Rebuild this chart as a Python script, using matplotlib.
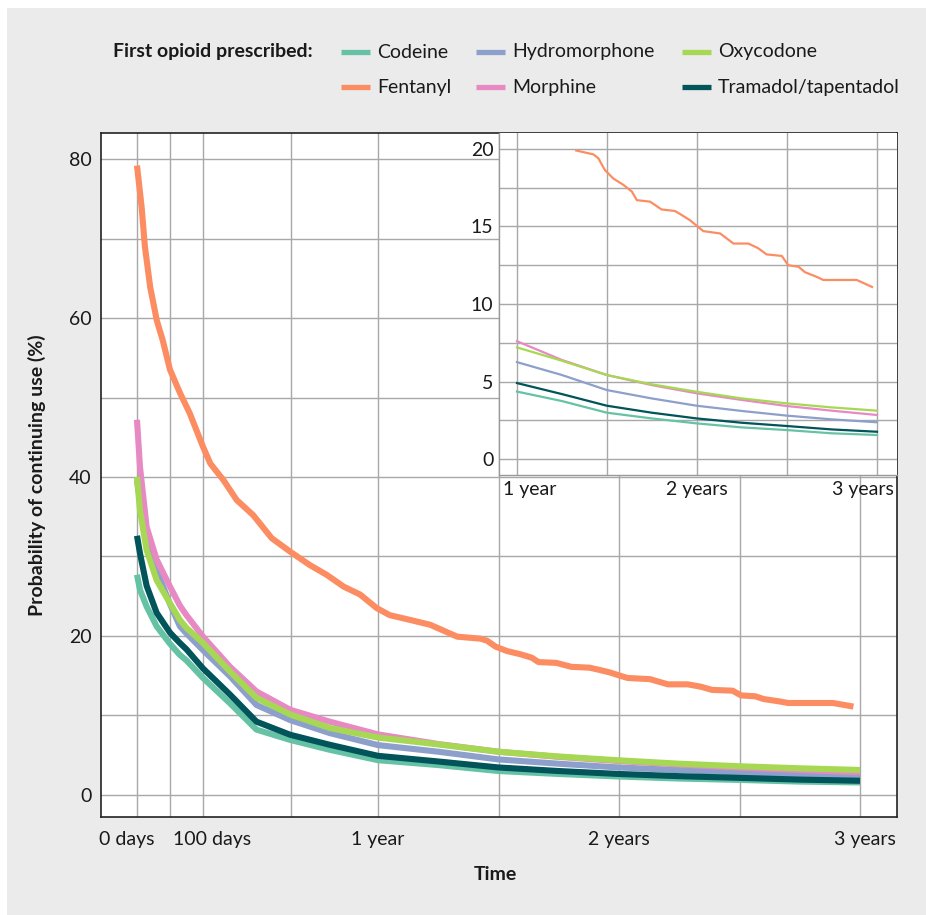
import numpy as np
import matplotlib.pyplot as plt
from matplotlib.lines import Line2D
from matplotlib.patches import Rectangle
from matplotlib.transforms import ScaledTranslation

plt.rcParams['font.family'] = ['Lato', 'DejaVu Sans']

# days since first prescription
days = [0, 4.5, 14.6, 29.8, 50, 65, 75, 100, 141, 181, 232, 292, 365,
        456, 547, 638, 729, 821, 912, 1003, 1095]
codeine = [27.7, 25.8, 23.7, 21.2, 19.0, 17.6, 16.9, 14.7, 11.5, 8.2, 6.9, 5.66, 4.35,
           3.74, 2.99, 2.62, 2.3, 2.04, 1.87, 1.66, 1.55]
hydromorphone = [39.6, 37.0, 32.6, 28.3, 24.0, 21.2, 20.3, 18.2, 14.9, 11.3, 9.4, 7.76, 6.25,
                 5.42, 4.45, 3.91, 3.44, 3.1, 2.8, 2.56, 2.37]
morphine = [47.2, 41.3, 33.7, 29.6, 26.2, 23.8, 22.6, 19.9, 16.1, 13.0, 10.7, 9.2, 7.6,
            6.39, 5.42, 4.77, 4.24, 3.81, 3.42, 3.12, 2.84]
oxycodone = [40.0, 35.8, 30.8, 27.0, 24.1, 22.0, 21.0, 19.1, 15.5, 12.2, 10.1, 8.4, 7.2,
             6.34, 5.42, 4.82, 4.34, 3.91, 3.59, 3.33, 3.12]
tramadol = [32.6, 30.4, 26.3, 22.9, 20.4, 19.1, 18.3, 15.9, 12.6, 9.2, 7.55, 6.29, 4.9,
            4.19, 3.44, 2.99, 2.62, 2.34, 2.13, 1.91, 1.76]

fent_days = [0, 7, 12, 20, 30, 39, 50, 65, 80, 100, 111, 131, 151, 176, 204, 232, 262, 287,
             313, 338, 363, 383, 414, 444, 485, 520, 530, 543, 560, 580, 598, 608, 635, 658,
             685, 696, 716, 733, 743, 777, 804, 834, 854, 871, 902, 915, 936, 949, 973, 986,
             1054, 1085]
fentanyl = [79.2, 74.0, 69.0, 63.9, 59.7, 57.2, 53.5, 50.6, 48.0, 43.8, 41.7, 39.6, 37.1, 35.2,
            32.3, 30.6, 28.9, 27.7, 26.2, 25.2, 23.5, 22.6, 22.0, 21.4, 19.9, 19.65, 19.4, 18.65,
            18.1, 17.7, 17.25, 16.7, 16.6, 16.1, 16.0, 15.8, 15.4, 14.95, 14.7, 14.55, 13.9,
            13.9, 13.6, 13.2, 13.1, 12.5, 12.4, 12.05, 11.75, 11.55, 11.55, 11.1]

names = ['Codeine', 'Fentanyl', 'Hydromorphone', 'Morphine', 'Oxycodone', 'Tramadol/tapentadol']
colors = ['#66c2a5', '#fc8d62', '#8da0cb', '#e78ac3', '#a6d854', '#00545a']
xs = [days, fent_days, days, days, days, days]
ys = [codeine, fentanyl, hydromorphone, morphine, oxycodone, tramadol]

main_ticks = [0, 100, 365, 730, 1095]
main_labels = ['0 days', '100 days', '1 year', '2 years', '3 years']
main_grid = [0, 50, 100, 232.5, 365, 547.5, 730, 912.5, 1095]
inset_ticks = [365, 730, 1095]
inset_labels = ['1 year', '2 years', '3 years']

W, H = 926, 915
fs = 14
fig = plt.figure(figsize=(W / 100, H / 100), dpi=100, facecolor='white')
fig.add_artist(Rectangle((7 / W, 0), 1, 1 - 8 / H, transform=fig.transFigure,
                         facecolor='#ebebeb', edgecolor='none', zorder=-5))

grid_col = '#a8a8a8'
txt_col = '#1a1a1a'


def shift(label, dx):
    label.set_transform(label.get_transform() + ScaledTranslation(dx / 100, 0, fig.dpi_scale_trans))


# main panel
ax = fig.add_axes([101 / W, 1 - 817 / H, 796 / W, 684 / H])
ax.set_facecolor('white')
for x, y, c in zip(xs, ys, colors):
    ax.plot(x, y, color=c, lw=4.4, solid_capstyle='butt', solid_joinstyle='round', zorder=3)
ax.set_xlim(-54.5, 1151)
ax.set_ylim(-2.8, 83.3)
ax.set_xticks(main_grid, minor=True)
ax.set_yticks(np.arange(0, 81, 10), minor=True)
ax.set_xticks(main_ticks)
ax.set_xticklabels(main_labels)
ax.set_yticks([0, 20, 40, 60, 80])
ax.grid(True, which='both', color=grid_col, lw=1.0)
ax.tick_params(which='both', length=0)
ax.tick_params(axis='x', pad=10, labelsize=fs, labelcolor=txt_col)
ax.tick_params(axis='y', pad=7, labelsize=fs, labelcolor=txt_col)
for s in ax.spines.values():
    s.set_color('#222222')
    s.set_linewidth(1.2)
for lab, dx in zip(ax.get_xticklabels(), [-10, 9, 0, 0, 5]):
    shift(lab, dx)

# inset panel
ins = fig.add_axes([499 / W, 1 - 475 / H, 398 / W, 342 / H])
ins.set_facecolor('white')
for x, y, c in zip(xs, ys, colors):
    x = np.array(x, dtype=float)
    y = np.array(y, dtype=float)
    keep = x >= 365
    y = np.where(y > 20, np.nan, y)
    ins.plot(x[keep], y[keep], color=c, lw=1.6, zorder=3)
ins.set_xlim(328.5, 1135.6)
ins.set_ylim(-1.03, 21.03)
ins.set_xticks([365, 547.5, 730, 912.5, 1095], minor=True)
ins.set_yticks(np.arange(0, 20.1, 2.5), minor=True)
ins.set_xticks(inset_ticks)
ins.set_xticklabels(inset_labels)
ins.set_yticks([0, 5, 10, 15, 20])
ins.grid(True, which='both', color=grid_col, lw=1.0)
ins.tick_params(which='both', length=0)
ins.tick_params(axis='x', pad=4, labelsize=fs, labelcolor=txt_col)
ins.tick_params(axis='y', pad=4, labelsize=fs, labelcolor=txt_col)
for s in ins.spines.values():
    s.set_color('#999999')
    s.set_linewidth(1.0)
ins.spines['top'].set_visible(False)
ins.spines['right'].set_visible(False)
for lab, dx in zip(ins.get_xticklabels(), [13, 0, -14]):
    shift(lab, dx)

# axis titles
fig.text(37 / W, 1 - 475 / H, 'Probability of continuing use (%)', rotation=90,
         ha='center', va='center', fontsize=fs, fontweight='bold', color=txt_col)
fig.text(495 / W, 1 - 875 / H, 'Time', ha='center', va='center',
         fontsize=fs, fontweight='bold', color=txt_col)

# legend
fig.text(313 / W, 1 - 52 / H, 'First opioid prescribed:', ha='right', va='center',
         fontsize=fs, fontweight='bold', color=txt_col)
col_x = [341, 341, 476, 476, 682, 682]
row_y = [52, 87, 52, 87, 52, 87]
for name, c, lx, ly in zip(names, colors, col_x, row_y):
    fig.add_artist(Line2D([lx / W, (lx + 29) / W], [1 - ly / H, 1 - ly / H],
                          transform=fig.transFigure, color=c, lw=3.8, solid_capstyle='butt'))
    fig.text((lx + 36) / W, 1 - ly / H, name, ha='left', va='center',
             fontsize=fs, color=txt_col)

fig.savefig('out.png', dpi=100, facecolor=fig.get_facecolor())
